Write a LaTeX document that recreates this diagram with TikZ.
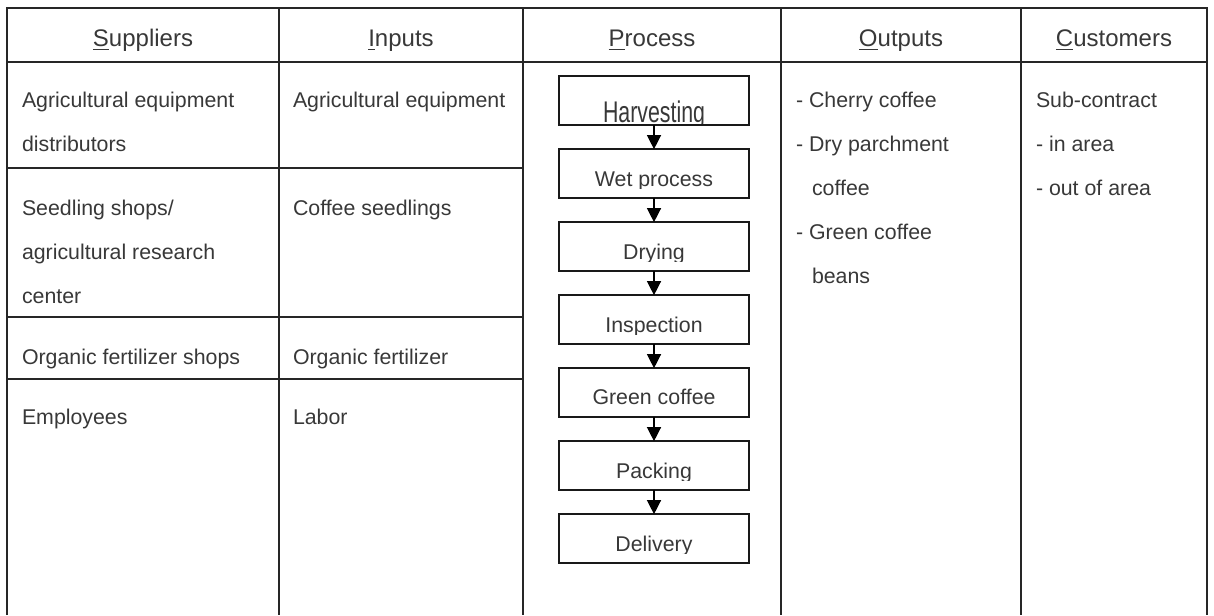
\documentclass[tikz,border=0pt]{standalone}
\usepackage{fontspec}
\setmainfont{Liberation Sans}
\usepackage{graphicx}
\usetikzlibrary{arrows.meta,positioning}

% underline only the first letter of a header
\newcommand{\hdul}[1]{\setbox0\hbox{#1}\rlap{\rule[-3.3pt]{\wd0}{0.8pt}}\box0}

\begin{document}
\begin{tikzpicture}[
  x=0.75pt, y=-0.75pt,
  every node/.style={text=black!78, inner sep=0pt, outer sep=0pt},
  grid/.style    ={draw=black!85, line width=1.6pt},
  hd/.style      ={font=\fontsize{18}{22}\selectfont, anchor=base},
  cell/.style    ={font=\fontsize{16}{33}\selectfont, anchor=base west, align=left},
  stepbox/.style ={draw=black!90, line width=1.4pt, fill=white,
                   minimum width=142.5pt, minimum height=36.5pt},
  steptext/.style={font=\fontsize{16}{20}\selectfont, anchor=base},
  flow/.style    ={-{Triangle[length=10.5pt,width=10.5pt]}, line width=1pt, black},
]
\useasboundingbox (0,0) rectangle (1214,615);

%% Coordinates are in pixels of the 1214 x 615 sheet (y grows downwards):
%%   column rules x = 7, 279, 523, 781, 1021, 1207
%%   header row 8 .. 62,  row rules (first two columns) y = 168, 317, 379
%%   cell texts: base west sits on the baseline of the LAST line (44 px pitch)

%% ─── Table rules ─────────────────────────────────────────────────────────────
\draw[grid] (7,615) -- (7,8) -- (1207,8) -- (1207,615);
\draw[grid] (7,62) -- (1207,62);
\foreach \x in {279, 523, 781, 1021} { \draw[grid] (\x,8) -- (\x,615); }
\foreach \y in {168, 317, 379}       { \draw[grid] (7,\y) -- (523,\y); }

%% ─── Header row ──────────────────────────────────────────────────────────────
\node[hd] (hsup)  at (143,46)  {\hdul{S}uppliers};
\node[hd] (hinp)  at (401,46)  {\hdul{I}nputs};
\node[hd] (hproc) at (652,46)  {\hdul{P}rocess};
\node[hd] (hout)  at (901,46)  {\hdul{O}utputs};
\node[hd] (hcus)  at (1114,46) {\hdul{C}ustomers};

%% ─── Suppliers / Inputs ──────────────────────────────────────────────────────
\node[cell] (sup1) at (22,151) {Agricultural equipment\\distributors};
\node[cell] (sup2) at (22,303) {Seedling shops/\\agricultural research\\center};
\node[cell] (sup3) at (22,364) {Organic fertilizer shops};
\node[cell] (sup4) at (22,424) {Employees};

\node[cell] (inp1) at (293,107) {Agricultural equipment};
\node[cell] (inp2) at (293,215) {Coffee seedlings};
\node[cell] (inp3) at (293,364) {Organic fertilizer};
\node[cell] (inp4) at (293,424) {Labor};

%% ─── Process chain (labels cut at their baseline, as printed) ────────────────
\foreach \n/\t/\dy/\sy [count=\i from 0] in {harv/Harvesting/2.5/1.4,
    wet/Wet process/11/1, dry/Drying/11/1, insp/Inspection/11/1,
    green/Green coffee/12/1, pack/Packing/11/1, deli/Delivery/11/1} {
  \node[stepbox] (\n) at (654,100.5+73*\i) {};
  \begin{scope}
    \clip ([yshift=(\dy-1.5)*0.75pt]\n.south west) rectangle (\n.north east);
    \node[steptext] (\n-t) at ([yshift=\dy*0.75pt]\n.south) {\scalebox{1}[\sy]{\t}};
  \end{scope}
}
\foreach \a/\b in {harv/wet, wet/dry, dry/insp, insp/green, green/pack, pack/deli} {
  \draw[flow] (\a) -- (\b);
}

%% ─── Outputs / Customers ─────────────────────────────────────────────────────
\node[cell] (outl) at (796,283)
  {- Cherry coffee\\- Dry parchment\\\hspace*{12pt}coffee\\- Green coffee\\\hspace*{12pt}beans};
\node[cell] (cusl) at (1036,195) {Sub-contract\\- in area\\- out of area};

\end{tikzpicture}
\end{document}
